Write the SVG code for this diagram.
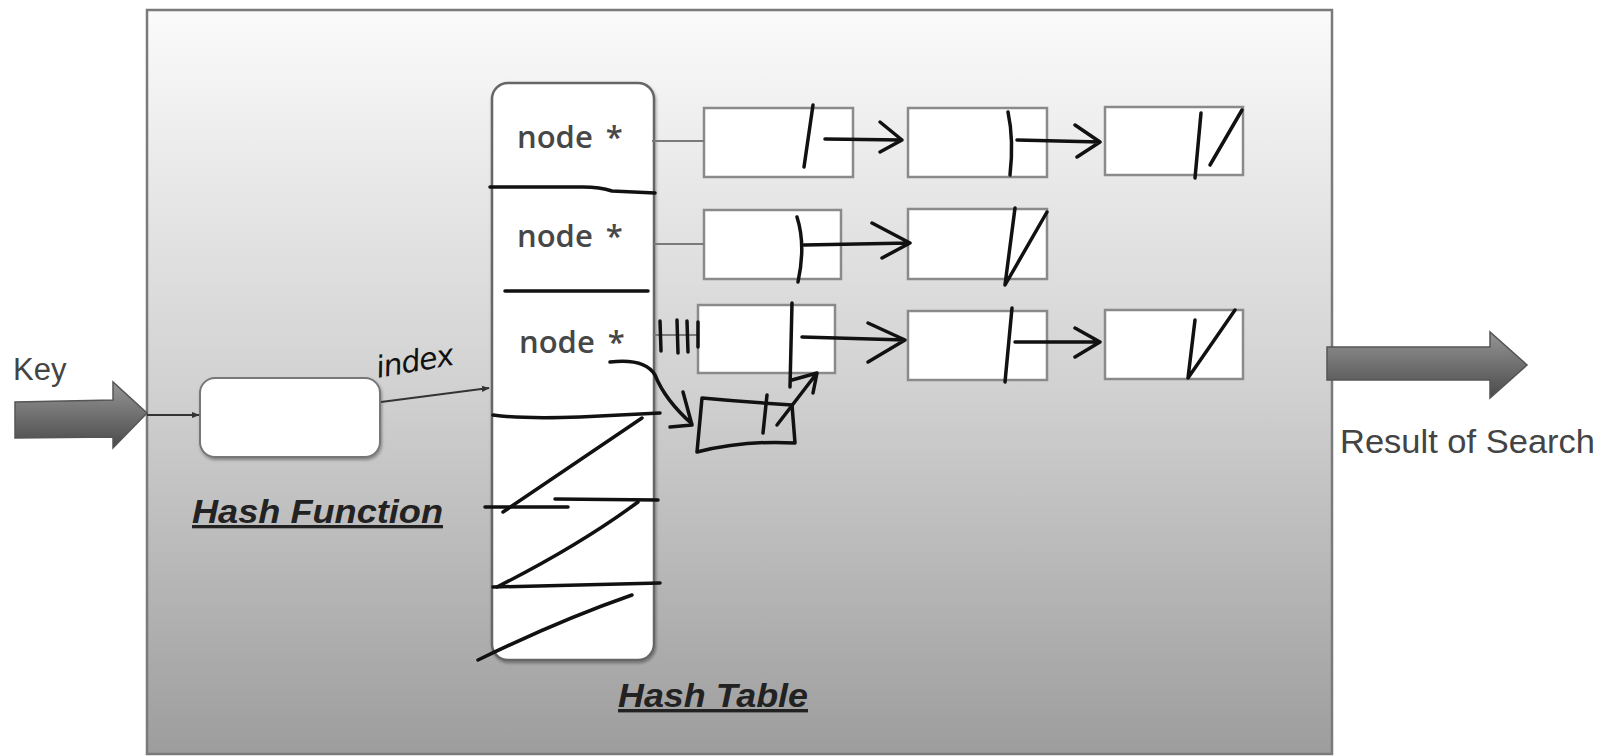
<svg xmlns="http://www.w3.org/2000/svg" width="1602" height="756" viewBox="0 0 1602 756">
  <defs>
    <linearGradient id="panelFill" x1="0" y1="0" x2="0" y2="1">
      <stop offset="0" stop-color="#fbfbfb"/>
      <stop offset="0.5" stop-color="#d2d2d2"/>
      <stop offset="1" stop-color="#9d9d9d"/>
    </linearGradient>
    <linearGradient id="bigArrowFill" x1="0" y1="0" x2="0" y2="1">
      <stop offset="0" stop-color="#959595"/>
      <stop offset="0.45" stop-color="#747474"/>
      <stop offset="1" stop-color="#4a4a4a"/>
    </linearGradient>
    <marker id="smallHead" viewBox="0 0 10 10" refX="9" refY="5" markerWidth="8" markerHeight="8" orient="auto" markerUnits="userSpaceOnUse">
      <path d="M0,1 L10,5 L0,9 Z" fill="#333"/>
    </marker>
    <filter id="softShadow" x="-10%" y="-10%" width="120%" height="120%">
      <feDropShadow dx="1" dy="2" stdDeviation="1.5" flood-color="#000" flood-opacity="0.35"/>
    </filter>
  </defs>
  <style>
    .label { font-family: "Liberation Sans", Arial, sans-serif; fill: #444; }
    .title { font-family: "Liberation Sans", Arial, sans-serif; font-weight: bold; font-style: italic; fill: #222; text-decoration: underline; }
    .slot { font-family: "Open Sans", "DejaVu Sans", sans-serif; font-weight: 600; font-size: 31px; fill: #474747; word-spacing: 5px; }
    .cell { fill: #fff; stroke: #8a8a8a; stroke-width: 2.5; }
    .link { stroke: #7a7a7a; stroke-width: 2; fill: none; }
    .ink { stroke: #111; stroke-width: 3.5; fill: none; stroke-linecap: round; stroke-linejoin: round; }
    .bigArrow { fill: url(#bigArrowFill); stroke: #555; stroke-width: 1.5; }
  </style>

  <rect width="1602" height="756" fill="#fff"/>

  <!-- container panel -->
  <g id="panel">
    <rect x="147" y="10" width="1185" height="744" fill="url(#panelFill)" stroke="#7a7a7a" stroke-width="2.5"/>
  </g>

  <!-- input key -->
  <g id="key-input">
    <text class="label" x="13" y="380" font-size="31">Key</text>
    <path class="bigArrow" d="M15,402 L113,400 L113,382 L147,413 L113,448 L113,437 L15,438 Z"/>
  </g>

  <!-- hash function -->
  <g id="hash-function">
    <rect x="200" y="378" width="180" height="79" rx="15" fill="#fff" stroke="#777" stroke-width="2" filter="url(#softShadow)"/>
    <text class="title" x="192" y="523" font-size="33" textLength="251" lengthAdjust="spacingAndGlyphs">Hash Function</text>
  </g>

  <!-- hash table -->
  <g id="hash-table">
    <rect x="492" y="83" width="162" height="577" rx="16" fill="#fff" stroke="#666" stroke-width="2.5" filter="url(#softShadow)"/>
    <text class="slot" x="517" y="148">node *</text>
    <text class="slot" x="517" y="247">node *</text>
    <text class="slot" x="519" y="353">node *</text>
    <text class="title" x="618" y="707" font-size="34" textLength="190" lengthAdjust="spacingAndGlyphs">Hash Table</text>
  </g>

  <!-- bucket chains -->
  <g id="chain-1-a"><rect class="cell" x="704" y="108" width="149" height="69"/></g>
  <g id="chain-1-b"><rect class="cell" x="908" y="108" width="139" height="69"/></g>
  <g id="chain-1-c"><rect class="cell" x="1105" y="107" width="138" height="68"/></g>
  <g id="chain-2-a"><rect class="cell" x="704" y="210" width="137" height="69"/></g>
  <g id="chain-2-b"><rect class="cell" x="908" y="209" width="139" height="70"/></g>
  <g id="chain-3-a"><rect class="cell" x="698" y="305" width="137" height="68"/></g>
  <g id="chain-3-b"><rect class="cell" x="908" y="311" width="139" height="69"/></g>
  <g id="chain-3-c"><rect class="cell" x="1105" y="310" width="138" height="69"/></g>

  <!-- connectors -->
  <g id="connectors">
    <line x1="147" y1="415" x2="199" y2="415" stroke="#333" stroke-width="1.8" marker-end="url(#smallHead)"/>
    <line x1="381" y1="402" x2="489" y2="388" stroke="#333" stroke-width="1.8" marker-end="url(#smallHead)"/>
    <line class="link" x1="652" y1="141" x2="704" y2="141"/>
    <line class="link" x1="654" y1="244" x2="704" y2="244"/>
    <line class="link" x1="654" y1="335" x2="698" y2="335"/>
  </g>

  <!-- pen annotations -->
  <g id="pen-marks">
    <text x="378" y="378" transform="rotate(-10 378 378)" font-family="DejaVu Sans, sans-serif" font-style="italic" font-size="30" fill="#111" letter-spacing="-1">index</text>

    <!-- slot dividers and crossed-out rows -->
    <path class="ink" d="M490,187 L583,187 Q600,187 612,191 L655,193"/>
    <path class="ink" d="M505,291 L648,291"/>
    <path class="ink" d="M493,415 Q520,419 580,417 L660,413"/>
    <path class="ink" d="M642,418 L503,512"/>
    <path class="ink" d="M485,507 L568,507"/>
    <path class="ink" d="M555,499 L658,500"/>
    <path class="ink" d="M638,502 Q580,545 497,587"/>
    <path class="ink" d="M493,587 L660,583"/>
    <path class="ink" d="M632,595 Q560,620 478,660"/>

    <!-- chain 1 -->
    <path class="ink" d="M813,105 L804,167"/>
    <path class="ink" d="M825,139 L902,140 M880,122 L902,140 L880,152"/>
    <path class="ink" d="M1008,112 Q1014,140 1010,175"/>
    <path class="ink" d="M1017,140 L1100,142 M1075,125 L1100,142 L1077,157"/>
    <path class="ink" d="M1201,113 L1195,178"/>
    <path class="ink" d="M1210,165 L1242,110"/>

    <!-- chain 2 -->
    <path class="ink" d="M797,217 Q806,245 798,282"/>
    <path class="ink" d="M804,245 L910,243 M872,223 L910,243 L882,258"/>
    <path class="ink" d="M1015,208 L1005,285 L1047,212"/>

    <!-- chain 3 -->
    <path class="ink" d="M660,321 L661,351 M677,320 L678,353 M687,321 L688,352 M698,322 L698,347"/>
    <path class="ink" d="M792,303 L790,387"/>
    <path class="ink" d="M802,337 L905,340 M868,323 L905,340 L868,362"/>
    <path class="ink" d="M1012,308 L1005,382"/>
    <path class="ink" d="M1015,342 L1100,342 M1075,328 L1100,342 L1075,357"/>
    <path class="ink" d="M1195,320 L1188,378 L1235,310"/>

    <!-- inserted node -->
    <path class="ink" d="M610,362 Q645,358 655,375 Q665,400 692,424 M683,392 L692,425 L670,427"/>
    <path class="ink" d="M702,398 Q745,402 792,405 L795,443 Q745,440 697,452 L702,398"/>
    <path class="ink" d="M767,395 L763,433"/>
    <path class="ink" d="M777,425 L817,373 M792,380 L817,373 L813,393"/>
  </g>

  <!-- search result output -->
  <g id="result-output">
    <path class="bigArrow" d="M1327,347 L1490,347 L1490,332 L1527,365 L1490,398 L1490,380 L1327,380 Z"/>
    <text class="label" x="1340" y="453" font-size="33" textLength="255" lengthAdjust="spacingAndGlyphs">Result of Search</text>
  </g>
</svg>
